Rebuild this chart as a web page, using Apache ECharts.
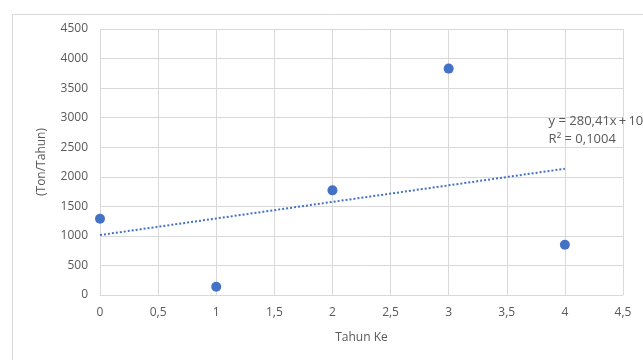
<!DOCTYPE html>
<html>
<head>
<meta charset="utf-8">
<script src="https://cdn.jsdelivr.net/npm/echarts@6/dist/echarts.min.js"></script>
<style>
html,body{margin:0;padding:0;background:#fff;}
#c{width:643px;height:360px;}
</style>
</head>
<body>
<div id="c"></div>
<script>
// Data
const tahunKe = [0, 1, 2, 3, 4];
const produksi = [1290, 140, 1770, 3830, 850];
const trendSlope = 280.41;
const trendIntercept = 1014.3;
const trendRange = [0, 4];
const trendLabel = ['y = 280,41x\u2009+\u20091014,3', 'R² = 0,1004'];

const points = tahunKe.map((x, i) => [x, produksi[i]]);
const trendPts = trendRange.map(x => [x, trendSlope * x + trendIntercept]);

const font = 'Open Sans';
const grey = '#595959';
const chart = echarts.init(document.getElementById('c'), null, {renderer: 'canvas'});
chart.setOption({
  backgroundColor: '#fff',
  animation: false,
  textStyle: {fontFamily: font},
  grid: {left: 100, right: 20, top: 29, bottom: 65},
  xAxis: {
    type: 'value', min: 0, max: 4.5, interval: 0.5,
    name: 'Tahun Ke', nameLocation: 'middle', nameGap: 37,
    nameTextStyle: {color: grey, fontSize: 12, fontFamily: font},
    axisLine: {show: true, lineStyle: {color: '#d9d9d9'}},
    axisTick: {show: false},
    axisLabel: {color: grey, fontSize: 12, margin: 12,
      formatter: v => String(+v.toFixed(1)).replace('.', ',')},
    splitLine: {show: true, lineStyle: {color: '#d9d9d9'}}
  },
  yAxis: {
    type: 'value', min: 0, max: 4500, interval: 500,
    name: '(Ton/Tahun)', nameLocation: 'middle', nameGap: 52,
    nameTextStyle: {color: grey, fontSize: 12, fontFamily: font},
    axisLine: {show: false},
    axisTick: {show: false},
    axisLabel: {color: grey, fontSize: 12, margin: 12, formatter: v => String(v)},
    splitLine: {show: true, lineStyle: {color: '#d9d9d9'}}
  },
  series: [
    {
      type: 'line', data: trendPts, symbol: 'none', silent: true,
      lineStyle: {color: '#4472C4', width: 2, type: [2, 2]}, z: 1
    },
    {
      type: 'scatter', data: points, symbolSize: 10,
      itemStyle: {color: '#4472C4', opacity: 1}, z: 3
    }
  ]
});
const p = chart.convertToPixel({gridIndex: 0}, [3.86, 2790]);
chart.setOption({
  graphic: [{
    type: 'rect', left: 10, top: 12, shape: {width: 700, height: 400},
    style: {fill: 'none', stroke: '#d9d9d9', lineWidth: 1}, z: -1
  }, {
    type: 'text', x: p[0], y: p[1],
    style: {text: trendLabel.join('\n'), fill: grey, font: '13px "Open Sans"',
      align: 'left', verticalAlign: 'middle', lineHeight: 18}, z: 5
  }]
});
</script>
</body>
</html>
